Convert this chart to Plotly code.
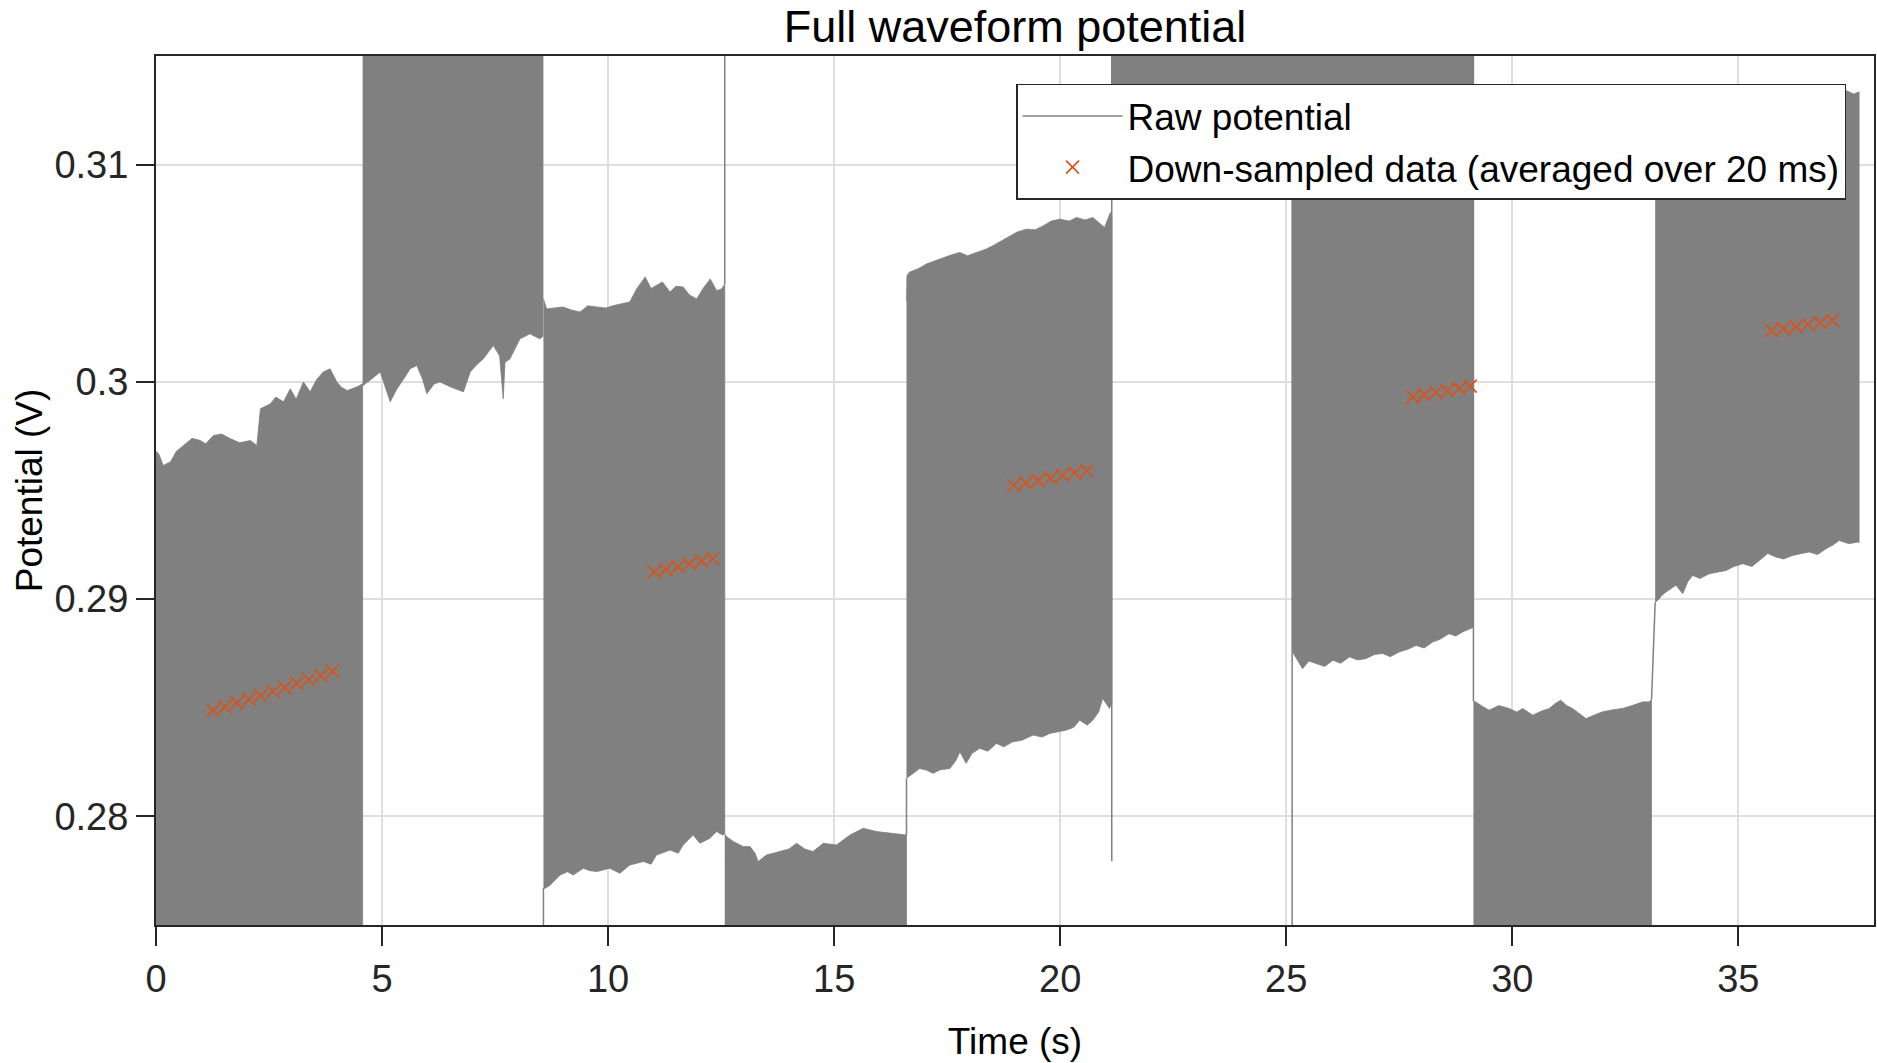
import plotly.graph_objects as go

# ---------------- data ----------------
OFF_HI = 0.33   # raw signal excursion above the visible range
OFF_LO = 0.26   # raw signal excursion below the visible range

# segment 1 (upper envelope visible, lower off-axis)
seg1_t = [0.00, 0.06, 0.16, 0.32, 0.45, 0.61, 0.80, 0.98, 1.10, 1.27, 1.45, 1.65, 1.85, 2.09, 2.23, 2.31,
          2.53, 2.65, 2.82, 2.97, 3.10, 3.26, 3.41, 3.55, 3.70, 3.85, 4.00, 4.10, 4.23, 4.45, 4.57]
seg1_hi = [0.29680, 0.29669, 0.29615, 0.29632, 0.29680, 0.29707, 0.29740, 0.29730, 0.29715, 0.29753, 0.29760,
           0.29738, 0.29720, 0.29730, 0.29707, 0.29876, 0.29899, 0.29930, 0.29908, 0.29968, 0.29920, 0.30000,
           0.29954, 0.30010, 0.30046, 0.30060, 0.30000, 0.29975, 0.29960, 0.29977, 0.29991]

# segment 2 (lower envelope visible, upper off-axis)
seg2_t = [4.57, 4.58, 4.75, 4.96, 5.10, 5.18, 5.33, 5.50, 5.62, 5.77, 5.90, 5.99, 6.15, 6.28, 6.51, 6.80,
          6.95, 7.10, 7.24, 7.46, 7.60, 7.68, 7.72, 7.83, 8.05, 8.27, 8.49, 8.56]
seg2_lo = [0.29991, 0.29983, 0.30010, 0.30046, 0.29960, 0.29908, 0.29968, 0.30020, 0.30060, 0.30075, 0.30010,
           0.29945, 0.29990, 0.30000, 0.29977, 0.29954, 0.30046, 0.30080, 0.30106, 0.30167, 0.30120, 0.29922,
           0.30090, 0.30106, 0.30198, 0.30221, 0.30198, 0.30210]

# segment 3 (both envelopes visible)
seg3_t_hi = [8.57, 8.64, 9.00, 9.20, 9.38, 9.55, 9.75, 9.95, 10.12, 10.30, 10.48, 10.63, 10.82, 10.95, 11.07,
             11.20, 11.37, 11.50, 11.66, 11.80, 11.96, 12.10, 12.26, 12.40, 12.51, 12.58]
seg3_hi = [0.30382, 0.30336, 0.30345, 0.30330, 0.30322, 0.30350, 0.30345, 0.30340, 0.30351, 0.30360, 0.30368,
           0.30428, 0.30483, 0.30430, 0.30443, 0.30460, 0.30414, 0.30440, 0.30437, 0.30400, 0.30382, 0.30430,
           0.30474, 0.30420, 0.30428, 0.30450]
seg3_t_lo = [8.57, 8.61, 8.72, 8.94, 9.10, 9.23, 9.45, 9.60, 9.75, 10.04, 10.26, 10.48, 10.78, 10.95, 11.07,
             11.37, 11.55, 11.66, 11.88, 12.03, 12.25, 12.40, 12.53, 12.58]
seg3_lo = [0.27669, 0.27669, 0.27684, 0.27730, 0.27745, 0.27730, 0.27761, 0.27750, 0.27746, 0.27761, 0.27738,
           0.27776, 0.27792, 0.27780, 0.27822, 0.27845, 0.27830, 0.27868, 0.27914, 0.27876, 0.27899, 0.27930,
           0.27914, 0.27920]

# segment 4 (upper envelope visible)
seg4_t = [12.58, 12.62, 12.77, 12.99, 13.14, 13.25, 13.32, 13.50, 13.65, 13.80, 14.00, 14.17, 14.35, 14.53,
          14.76, 15.05, 15.20, 15.35, 15.50, 15.64, 15.94, 16.23, 16.52, 16.60]
seg4_hi = [0.27920, 0.27907, 0.27884, 0.27861, 0.27861, 0.27830, 0.27792, 0.27822, 0.27830, 0.27838, 0.27850,
           0.27876, 0.27850, 0.27838, 0.27876, 0.27868, 0.27890, 0.27914, 0.27930, 0.27945, 0.27930, 0.27922,
           0.27914, 0.27914]

# segment 5 (both envelopes visible)
seg5_t_hi = [16.60, 16.61, 16.67, 16.85, 17.04, 17.20, 17.41, 17.60, 17.78, 17.95, 18.15, 18.35, 18.51, 18.70,
             18.88, 19.05, 19.25, 19.45, 19.62, 19.80, 19.99, 20.20, 20.36, 20.55, 20.72, 20.85, 20.98, 21.11,
             21.14]
seg5_hi = [0.30370, 0.30489, 0.30506, 0.30520, 0.30543, 0.30555, 0.30573, 0.30585, 0.30596, 0.30580, 0.30596,
           0.30610, 0.30627, 0.30650, 0.30673, 0.30690, 0.30703, 0.30700, 0.30718, 0.30740, 0.30749, 0.30740,
           0.30757, 0.30745, 0.30757, 0.30735, 0.30711, 0.30780, 0.30760]
seg5_t_lo = [16.60, 16.75, 16.89, 17.04, 17.19, 17.35, 17.56, 17.70, 17.78, 17.92, 18.05, 18.22, 18.40, 18.59,
             18.75, 18.95, 19.15, 19.40, 19.60, 19.77, 19.95, 20.13, 20.30, 20.43, 20.60, 20.72, 20.85, 20.94,
             21.09, 21.14]
seg5_lo = [0.28175, 0.28200, 0.28220, 0.28213, 0.28198, 0.28215, 0.28220, 0.28260, 0.28297, 0.28244, 0.28290,
           0.28313, 0.28300, 0.28336, 0.28320, 0.28343, 0.28350, 0.28374, 0.28365, 0.28382, 0.28390, 0.28397,
           0.28410, 0.28443, 0.28420, 0.28443, 0.28480, 0.28543, 0.28497, 0.28520]

# segment 6 (lower envelope above the view / under the legend)
seg6_t = [21.14, 22.50, 23.80, 25.13]
seg6_lo = [0.31150, 0.31180, 0.31220, 0.31250]

# segment 7 (lower envelope visible)
seg7_t = [25.13, 25.18, 25.27, 25.36, 25.50, 25.66, 25.85, 26.03, 26.20, 26.40, 26.58, 26.76, 26.95, 27.13,
          27.30, 27.50, 27.70, 27.87, 28.05, 28.24, 28.40, 28.60, 28.75, 28.90, 29.08, 29.14]
seg7_lo = [0.28760, 0.28742, 0.28710, 0.28680, 0.28715, 0.28703, 0.28690, 0.28719, 0.28705, 0.28734, 0.28720,
           0.28726, 0.28745, 0.28750, 0.28735, 0.28757, 0.28770, 0.28787, 0.28775, 0.28803, 0.28815, 0.28841,
           0.28830, 0.28849, 0.28864, 0.28870]

# segment 8 (upper envelope visible)
seg8_t = [29.14, 29.19, 29.35, 29.49, 29.70, 29.93, 30.10, 30.23, 30.45, 30.65, 30.82, 30.95, 31.07, 31.20,
          31.33, 31.50, 31.63, 31.80, 31.99, 32.20, 32.44, 32.65, 32.88, 33.03, 33.08]
seg8_hi = [0.28530, 0.28527, 0.28505, 0.28489, 0.28510, 0.28497, 0.28480, 0.28497, 0.28466, 0.28485, 0.28497,
           0.28520, 0.28535, 0.28510, 0.28497, 0.28470, 0.28450, 0.28465, 0.28481, 0.28490, 0.28497, 0.28510,
           0.28527, 0.28527, 0.28540]

# segment 9 (both envelopes visible)
seg9_t_hi = [33.16, 35.00, 36.50, 37.40, 37.55, 37.67]
seg9_hi = [0.31280, 0.31300, 0.31320, 0.31340, 0.31325, 0.31335]
seg9_t_lo = [33.16, 33.22, 33.30, 33.40, 33.52, 33.62, 33.77, 33.88, 33.99, 34.15, 34.36, 34.55, 34.73, 34.90,
             35.10, 35.30, 35.46, 35.65, 35.83, 36.00, 36.20, 36.40, 36.57, 36.75, 36.94, 37.10, 37.23, 37.45,
             37.64, 37.67]
seg9_lo = [0.28986, 0.28995, 0.29015, 0.29033, 0.29050, 0.29064, 0.29025, 0.29080, 0.29109, 0.29095, 0.29117,
           0.29125, 0.29132, 0.29150, 0.29163, 0.29150, 0.29178, 0.29210, 0.29194, 0.29185, 0.29201, 0.29210,
           0.29217, 0.29205, 0.29232, 0.29250, 0.29270, 0.29255, 0.29263, 0.29260]

# transitions of the raw trace between segments (None separates the strokes)
trans_t = [8.57, 8.57, None, 12.58, 12.58, None, 16.60, 16.60, None, 21.14, 21.14, None,
           25.13, 25.13, None, 29.14, 29.14, None, 33.08, 33.12, 33.16]
trans_v = [OFF_LO, 0.27669, None, 0.30450, OFF_HI, None, 0.27914, 0.28175, None, OFF_HI, 0.27793, None,
           OFF_LO, OFF_HI, None, OFF_HI, 0.28530, None, 0.28540, 0.28772, 0.28986]

# down-sampled data (averaged over 20 ms)
ds_t = [1.26, 1.53, 1.79, 2.06, 2.32, 2.59, 2.85, 3.12, 3.38, 3.65, 3.91, None,
        11.02, 11.28, 11.54, 11.80, 12.06, 12.32, None,
        18.97, 19.24, 19.51, 19.78, 20.05, 20.32, 20.59, None,
        27.80, 28.05, 28.31, 28.56, 28.82, 29.07, None,
        35.73, 36.00, 36.27, 36.54, 36.81, 37.08]
ds_v = [0.28488, 0.28504, 0.28522, 0.28540, 0.28557, 0.28576, 0.28593, 0.28612, 0.28630, 0.28648, 0.28667, None,
        0.29124, 0.29137, 0.29150, 0.29162, 0.29175, 0.29187, None,
        0.29523, 0.29535, 0.29547, 0.29558, 0.29570, 0.29581, 0.29592, None,
        0.29930, 0.29940, 0.29950, 0.29960, 0.29970, 0.29980, None,
        0.30236, 0.30245, 0.30254, 0.30264, 0.30273, 0.30282]

x_ticks = [0, 5, 10, 15, 20, 25, 30, 35]
y_ticks = [0.28, 0.29, 0.30, 0.31]
y_tick_text = ["0.28", "0.29", "0.3", "0.31"]

# ---------------- figure ----------------
GRAY = "#808080"
ORANGE = "#D95319"
INK = "#262626"
FONT = "Liberation Sans, Arial, Helvetica, sans-serif"

FIG_W, FIG_H = 1877, 1063


def band(t_hi, hi, t_lo, lo):
    assert len(t_hi) == len(hi) and len(t_lo) == len(lo)
    return list(t_hi) + list(t_lo)[::-1], list(hi) + list(lo)[::-1]


bands = [
    band(seg1_t, seg1_hi, seg1_t, [OFF_LO] * len(seg1_t)),
    band(seg2_t, [OFF_HI] * len(seg2_t), seg2_t, seg2_lo),
    band(seg3_t_hi, seg3_hi, seg3_t_lo, seg3_lo),
    band(seg4_t, seg4_hi, seg4_t, [OFF_LO] * len(seg4_t)),
    band(seg5_t_hi, seg5_hi, seg5_t_lo, seg5_lo),
    band(seg6_t, [OFF_HI] * len(seg6_t), seg6_t, seg6_lo),
    band(seg7_t, [OFF_HI] * len(seg7_t), seg7_t, seg7_lo),
    band(seg8_t, seg8_hi, seg8_t, [OFF_LO] * len(seg8_t)),
    band(seg9_t_hi, seg9_hi, seg9_t_lo, seg9_lo),
]

fig = go.Figure()
for bx, by in bands:
    fig.add_trace(go.Scatter(
        x=bx, y=by, mode="lines", fill="toself", fillcolor=GRAY,
        line=dict(color=GRAY, width=0.8), showlegend=False, hoverinfo="skip",
        legendgroup="raw"))

fig.add_trace(go.Scatter(
    x=trans_t, y=trans_v, mode="lines", name="Raw potential",
    line=dict(color=GRAY, width=1.5), legendgroup="raw", connectgaps=False))

fig.add_trace(go.Scatter(
    x=ds_t, y=ds_v, mode="markers", name="Down-sampled data (averaged over 20 ms)",
    marker=dict(symbol="x-thin", size=13, color=ORANGE, line=dict(color=ORANGE, width=1.7))))

axis_common = dict(
    showline=True, linecolor=INK, linewidth=2, mirror=True,
    ticks="outside", tickcolor=INK, tickwidth=2,
    showgrid=True, gridcolor="#dedede", gridwidth=1.5, zeroline=False,
    tickfont=dict(family=FONT, size=38, color=INK),
    automargin=False,
)

fig.update_layout(
    width=FIG_W, height=FIG_H,
    margin=dict(l=156, r=3, t=56, b=138),
    paper_bgcolor="white", plot_bgcolor="white",
    font=dict(family=FONT, color=INK),
    title=dict(text="Full waveform potential", x=0.5, xref="paper", xanchor="center",
               y=1 - 26 / FIG_H, yref="container", yanchor="middle",
               font=dict(family=FONT, size=45, color="black")),
    xaxis=dict(range=[0, 38], tickvals=x_ticks, ticklen=19, ticklabelstandoff=0,
               title=dict(text="Time (s)", font=dict(family=FONT, size=37, color="black"), standoff=30),
               **axis_common),
    yaxis=dict(range=[0.275, 0.315], tickvals=y_ticks, ticktext=y_tick_text, ticklen=18,
               ticklabelstandoff=0,
               title=dict(text="Potential (V)", font=dict(family=FONT, size=37, color="black"), standoff=0),
               **axis_common),
    legend=dict(x=0.5006, y=0.9678, xanchor="left", yanchor="top",
                bgcolor="white", bordercolor=INK, borderwidth=1.5,
                font=dict(family=FONT, size=37, color="black"),
                itemwidth=100, tracegroupgap=0),
    showlegend=True,
)

# remove the default 8 px page margin so the 1877x1063 figure fills the window exactly
fig.write_html("out.html",
               config={"displayModeBar": False},
               post_script="document.body.style.margin='0';document.body.style.overflow='hidden';")
